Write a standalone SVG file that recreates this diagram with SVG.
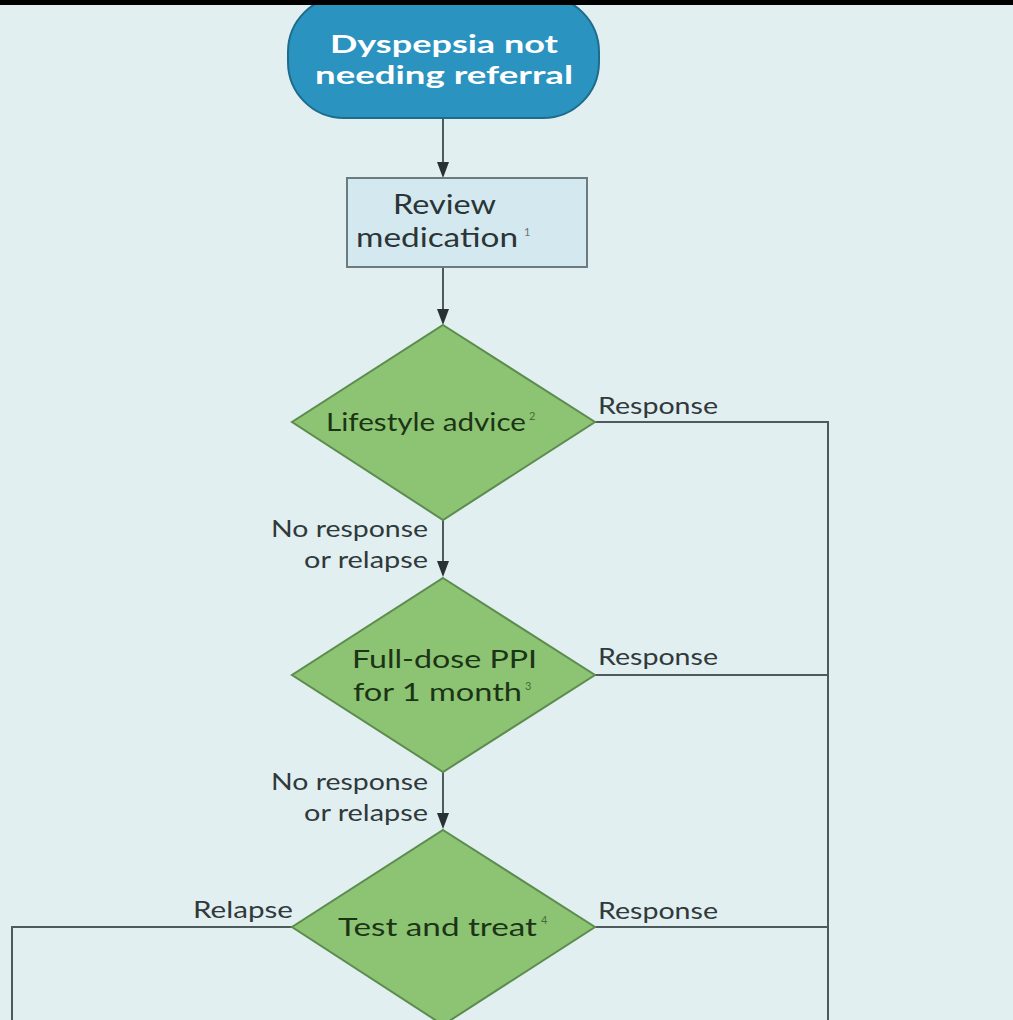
<svg xmlns="http://www.w3.org/2000/svg" width="1013" height="1020" viewBox="0 0 1013 1020">
<defs>
<style>
.t{font-family:Lato,"Open Sans","Liberation Sans",sans-serif;}
.lbl{font-size:23px;fill:#30393b;}
.dt{font-size:25px;fill:#1c3416;}
.bt{font-size:26px;fill:#2b3436;}
.sup{font-size:11px;}
.dia{fill:#8dc473;stroke:#5c8c4e;stroke-width:2;}
.ln{fill:none;stroke:#4e5a5c;stroke-width:2;}
.ah{fill:#283133;}
</style>
</defs>
<rect x="0" y="0" width="1013" height="1020" fill="#e2eff1"/>

<g id="connectors">
<line class="ln" x1="443" y1="118" x2="443" y2="165"/>
<polygon class="ah" points="437,162 449,162 443,178"/>
<line class="ln" x1="443" y1="267" x2="443" y2="312"/>
<polygon class="ah" points="437,309 449,309 443,325"/>
<line class="ln" x1="443" y1="520" x2="443" y2="565"/>
<polygon class="ah" points="437,561 449,561 443,577"/>
<line class="ln" x1="443" y1="772" x2="443" y2="817"/>
<polygon class="ah" points="437,813 449,813 443,829"/>
<polyline class="ln" points="595,422 828,422 828,1022"/>
<line class="ln" x1="595" y1="675" x2="828" y2="675"/>
<line class="ln" x1="595" y1="927" x2="828" y2="927"/>
<polyline class="ln" points="295,927 12,927 12,1022"/>
</g>

<g id="start">
<rect x="288" y="-4" width="311" height="122" rx="56" ry="56" fill="#2b93bf" stroke="#1e6c8c" stroke-width="2"/>
<text class="t" x="444" y="53" text-anchor="middle" font-size="25" font-weight="bold" fill="#ffffff" textLength="228" lengthAdjust="spacingAndGlyphs">Dyspepsia not</text>
<text class="t" x="444" y="84" text-anchor="middle" font-size="25" font-weight="bold" fill="#ffffff" textLength="258" lengthAdjust="spacingAndGlyphs">needing referral</text>
</g>

<g id="review">
<rect x="347" y="178" width="240" height="89" fill="#d4e9ef" stroke="#6b7b80" stroke-width="2"/>
<text class="t bt" x="393" y="214" textLength="103" lengthAdjust="spacingAndGlyphs">Review</text>
<text class="t bt" x="356" y="247" textLength="162" lengthAdjust="spacingAndGlyphs">medication</text>
<text class="t sup" x="524" y="236" fill="#6a7478">1</text>
</g>

<g id="lifestyle">
<polygon class="dia" points="443,325 595,422 443,520 292,422"/>
<text class="t dt" x="326" y="431" textLength="200" lengthAdjust="spacingAndGlyphs">Lifestyle advice</text>
<text class="t sup" x="529" y="420" fill="#4a6a3e">2</text>
</g>

<g id="ppi">
<polygon class="dia" points="443,578 595,675 443,772 292,675"/>
<text class="t dt" x="352" y="668" textLength="185" lengthAdjust="spacingAndGlyphs">Full-dose PPI</text>
<text class="t dt" x="353" y="701" textLength="169" lengthAdjust="spacingAndGlyphs">for 1 month</text>
<text class="t sup" x="525" y="690" fill="#4a6a3e">3</text>
</g>

<g id="testtreat">
<polygon class="dia" points="443,830 595,927 443,1025 292,927"/>
<text class="t dt" x="338" y="936" textLength="199" lengthAdjust="spacingAndGlyphs">Test and treat</text>
<text class="t sup" x="541" y="924" fill="#4a6a3e">4</text>
</g>

<g id="labels">
<text class="t lbl" x="598" y="414" textLength="120" lengthAdjust="spacingAndGlyphs">Response</text>
<text class="t lbl" x="598" y="665" textLength="120" lengthAdjust="spacingAndGlyphs">Response</text>
<text class="t lbl" x="598" y="919" textLength="120" lengthAdjust="spacingAndGlyphs">Response</text>
<text class="t lbl" x="193" y="918" textLength="100" lengthAdjust="spacingAndGlyphs">Relapse</text>
<text class="t lbl" x="271" y="537" textLength="157" lengthAdjust="spacingAndGlyphs">No response</text>
<text class="t lbl" x="304" y="568" textLength="124" lengthAdjust="spacingAndGlyphs">or relapse</text>
<text class="t lbl" x="271" y="790" textLength="157" lengthAdjust="spacingAndGlyphs">No response</text>
<text class="t lbl" x="304" y="821" textLength="124" lengthAdjust="spacingAndGlyphs">or relapse</text>
</g>

<rect x="0" y="0" width="1013" height="5" fill="#000000"/>
</svg>
